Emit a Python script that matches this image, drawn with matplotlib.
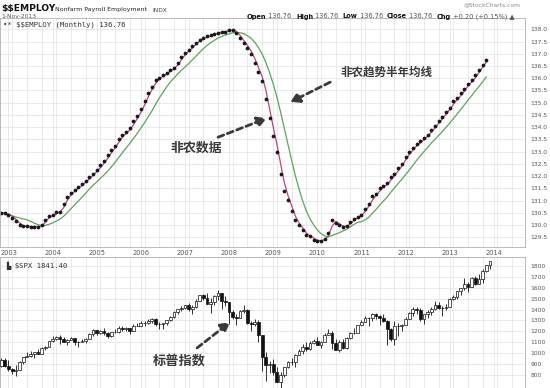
import matplotlib
matplotlib.use("Agg")
import matplotlib.pyplot as plt
from matplotlib.ticker import FormatStrFormatter
import numpy as np

# month index: 0 = Jan 2003, -2 = Nov 2002
emp_start = -2
# nonfarm payroll, millions (dots)
employ = [130.50, 130.48,
          130.42, 130.30, 130.18, 130.00, 129.95, 129.95, 129.92, 129.93, 129.92, 130.02, 130.19, 130.38,
          130.40, 130.52, 130.55, 130.87, 131.15, 131.30, 131.45, 131.56, 131.68, 131.82, 131.95, 132.10,
          132.25, 132.45, 132.60, 132.85, 133.05, 133.25, 133.50, 133.70, 133.80, 133.95, 134.25, 134.45,
          134.75, 135.05, 135.40, 135.65, 135.91, 136.02, 136.12, 136.22, 136.35, 136.42, 136.63, 136.86,
          137.03, 137.17, 137.30, 137.45, 137.58, 137.64, 137.71, 137.75, 137.80, 137.85, 137.88, 137.91,
          137.96, 137.98, 137.85, 137.65, 137.44, 137.23, 136.98, 136.63, 136.25, 135.88, 135.15, 134.39,
          133.65, 132.97, 132.10, 131.40, 131.03, 130.56, 130.19, 129.99, 129.78, 129.58, 129.54, 129.40,
          129.36, 129.35, 129.45, 129.67, 130.20, 130.10, 129.99, 129.92, 129.95, 130.12, 130.26, 130.35,
          130.43, 130.67, 130.87, 131.17, 131.25, 131.52, 131.60, 131.70, 131.95, 132.09, 132.33, 132.50,
          132.79, 132.97, 133.15, 133.30, 133.42, 133.55, 133.70, 133.88, 134.05, 134.25, 134.42, 134.62,
          134.80, 135.05, 135.18, 135.38, 135.58, 135.78, 135.92, 136.12, 136.35, 136.56, 136.76]
# short average (pink)
employ_short = [130.50, 130.49,
                130.45, 130.36, 130.24, 130.09, 129.98, 129.95, 129.94, 129.93, 129.93, 129.97, 130.11, 130.29,
                130.39, 130.46, 130.54, 130.71, 131.01, 131.23, 131.38, 131.51, 131.62, 131.75, 131.89, 132.03,
                132.18, 132.35, 132.53, 132.73, 132.95, 133.15, 133.38, 133.60, 133.75, 133.88, 134.10, 134.35,
                134.60, 134.90, 135.23, 135.53, 135.78, 135.97, 136.07, 136.17, 136.29, 136.39, 136.53, 136.75,
                136.95, 137.10, 137.24, 137.38, 137.52, 137.61, 137.68, 137.73, 137.78, 137.83, 137.87, 137.90,
                137.94, 137.97, 137.92, 137.75, 137.55, 137.34, 137.11, 136.81, 136.44, 136.07, 135.52, 134.77,
                134.02, 133.31, 132.54, 131.75, 131.22, 130.80, 130.38, 130.09, 129.89, 129.68, 129.56, 129.47,
                129.38, 129.36, 129.40, 129.56, 129.94, 130.15, 130.05, 129.96, 129.94, 130.04, 130.19, 130.31,
                130.39, 130.55, 130.77, 131.02, 131.21, 131.39, 131.56, 131.65, 131.83, 132.02, 132.21, 132.42,
                132.65, 132.88, 133.06, 133.23, 133.36, 133.49, 133.63, 133.79, 133.97, 134.15, 134.34, 134.52,
                134.71, 134.93, 135.12, 135.28, 135.48, 135.68, 135.85, 136.02, 136.24, 136.46, 136.66]
# half-year trend average (green)
employ_trend = [130.50, 130.47,
                130.43, 130.38, 130.33, 130.29, 130.25, 130.22, 130.15, 130.08, 130.02, 129.98, 129.99, 130.03,
                130.09, 130.16, 130.24, 130.36, 130.51, 130.67, 130.83, 130.98, 131.14, 131.30, 131.47, 131.63,
                131.76, 131.91, 132.05, 132.21, 132.38, 132.56, 132.76, 132.96, 133.15, 133.34, 133.54, 133.74,
                133.96, 134.18, 134.42, 134.66, 134.93, 135.19, 135.42, 135.64, 135.84, 136.01, 136.17, 136.32,
                136.46, 136.60, 136.75, 136.90, 137.06, 137.21, 137.34, 137.45, 137.55, 137.64, 137.71, 137.77,
                137.81, 137.86, 137.87, 137.86, 137.82, 137.74, 137.63, 137.47, 137.25, 136.99, 136.65, 136.24,
                135.77, 135.24, 134.63, 133.97, 133.32, 132.66, 132.04, 131.49, 131.00, 130.58, 130.26, 130.01,
                129.80, 129.65, 129.56, 129.52, 129.57, 129.63, 129.69, 129.76, 129.83, 129.93, 130.03, 130.11,
                130.14, 130.21, 130.32, 130.48, 130.64, 130.82, 130.98, 131.15, 131.34, 131.52, 131.70, 131.87,
                132.06, 132.24, 132.44, 132.64, 132.82, 133.00, 133.17, 133.35, 133.50, 133.66, 133.82, 133.99,
                134.16, 134.35, 134.53, 134.72, 134.91, 135.10, 135.29, 135.48, 135.67, 135.86, 136.06]

# S&P 500 monthly candles, Nov 2002 .. Dec 2013
spx_start = -2
spx_open = [886, 936,
            880, 856, 841, 848, 917, 964, 975, 990, 1008, 996, 1051, 1058,
            1112, 1131, 1145, 1126, 1107, 1121, 1141, 1102, 1104, 1115, 1130, 1174,
            1212, 1181, 1204, 1181, 1157, 1192, 1191, 1234, 1220, 1229, 1207, 1249,
            1248, 1280, 1281, 1295, 1311, 1270, 1270, 1277, 1304, 1336, 1378, 1401,
            1418, 1438, 1407, 1421, 1482, 1531, 1503, 1455, 1474, 1527, 1549, 1481,
            1468, 1379, 1331, 1323, 1386, 1400, 1280, 1267, 1283, 1165, 969, 896,
            903, 826, 735, 798, 873, 919, 919, 987, 1021, 1057, 1036, 1096,
            1115, 1074, 1104, 1169, 1187, 1089, 1031, 1102, 1049, 1141, 1183, 1181,
            1258, 1286, 1327, 1326, 1364, 1345, 1321, 1292, 1219, 1131, 1253, 1247,
            1258, 1312, 1366, 1408, 1398, 1310, 1362, 1379, 1407, 1441, 1412, 1416,
            1426, 1498, 1515, 1569, 1598, 1631, 1606, 1686, 1633, 1682, 1757, 1806]
spx_high = [952, 954,
            935, 864, 895, 924, 965, 1015, 1016, 1012, 1040, 1054, 1063, 1112,
            1155, 1159, 1163, 1150, 1128, 1146, 1141, 1109, 1132, 1142, 1188, 1218,
            1217, 1212, 1229, 1192, 1199, 1219, 1245, 1246, 1243, 1233, 1270, 1276,
            1295, 1297, 1311, 1319, 1326, 1284, 1280, 1306, 1340, 1389, 1407, 1431,
            1441, 1461, 1439, 1499, 1535, 1541, 1556, 1503, 1538, 1576, 1552, 1524,
            1471, 1397, 1359, 1397, 1441, 1405, 1292, 1314, 1304, 1168, 1008, 933,
            943, 876, 832, 877, 930, 956, 997, 1040, 1080, 1101, 1113, 1130,
            1150, 1113, 1181, 1220, 1208, 1132, 1120, 1129, 1151, 1196, 1228, 1263,
            1303, 1345, 1333, 1367, 1371, 1346, 1356, 1307, 1230, 1293, 1278, 1270,
            1333, 1378, 1420, 1422, 1415, 1364, 1392, 1427, 1475, 1470, 1434, 1448,
            1510, 1531, 1570, 1598, 1687, 1654, 1698, 1709, 1730, 1775, 1813, 1849]
spx_low = [872, 869,
           840, 806, 789, 847, 902, 962, 962, 960, 990, 994, 1031, 1056,
           1105, 1124, 1088, 1107, 1077, 1118, 1079, 1060, 1102, 1091, 1128, 1162,
           1163, 1180, 1171, 1137, 1146, 1188, 1184, 1201, 1205, 1176, 1201, 1246,
           1245, 1253, 1268, 1280, 1245, 1219, 1224, 1261, 1291, 1326, 1360, 1386,
           1403, 1390, 1364, 1416, 1477, 1485, 1454, 1371, 1439, 1490, 1407, 1436,
           1270, 1317, 1257, 1321, 1373, 1272, 1200, 1248, 1106, 839, 742, 815,
           804, 735, 667, 783, 866, 888, 869, 979, 991, 1020, 1029, 1086,
           1071, 1045, 1101, 1164, 1040, 1028, 1011, 1040, 1040, 1131, 1173, 1181,
           1257, 1290, 1249, 1299, 1311, 1259, 1282, 1074, 1114, 1075, 1158, 1203,
           1259, 1312, 1340, 1357, 1292, 1267, 1325, 1355, 1397, 1403, 1343, 1398,
           1426, 1485, 1501, 1537, 1581, 1560, 1605, 1627, 1633, 1646, 1746, 1768]
spx_close = [936, 880,
             856, 841, 848, 917, 964, 975, 990, 1008, 996, 1051, 1058, 1112,
             1131, 1145, 1126, 1107, 1121, 1141, 1102, 1104, 1115, 1130, 1174, 1212,
             1181, 1204, 1181, 1157, 1192, 1191, 1234, 1220, 1229, 1207, 1249, 1248,
             1280, 1281, 1295, 1311, 1270, 1270, 1277, 1304, 1336, 1378, 1401, 1418,
             1438, 1407, 1421, 1482, 1531, 1503, 1455, 1474, 1527, 1549, 1481, 1468,
             1379, 1331, 1323, 1386, 1400, 1280, 1267, 1283, 1165, 969, 896, 903,
             826, 735, 798, 873, 919, 919, 987, 1021, 1057, 1036, 1096, 1115,
             1074, 1104, 1169, 1187, 1089, 1031, 1102, 1049, 1141, 1183, 1181, 1258,
             1286, 1327, 1326, 1364, 1345, 1321, 1292, 1219, 1131, 1253, 1247, 1258,
             1312, 1366, 1408, 1398, 1310, 1362, 1379, 1407, 1441, 1412, 1416, 1426,
             1498, 1515, 1569, 1598, 1631, 1606, 1686, 1633, 1682, 1757, 1806, 1841.4]

years = list(range(2003, 2015))

plt.rcParams['font.family'] = ['DejaVu Sans']
GRID = '#e2e2e2'
TXT = '#555555'
CJK = ['Noto Sans CJK SC', 'DejaVu Sans']

fig = plt.figure(figsize=(5.5, 3.88), dpi=100)
W, H = 550.0, 388.0
xlim = (-2.31, 140.5)


def style_axes(ax):
    ax.set_facecolor('white')
    for s in ax.spines.values():
        s.set_color('#b0b0b0')
        s.set_linewidth(0.6)
    ax.yaxis.tick_right()
    ax.tick_params(axis='y', length=0, pad=4, labelsize=4.3, labelcolor=TXT)
    ax.tick_params(axis='x', length=0, pad=2.5, labelsize=4.8, labelcolor=TXT)
    ax.set_xticks(np.arange(0, 141, 12))
    ax.set_xticks(np.arange(-3, 141, 4), minor=True)
    ax.tick_params(axis='x', which='minor', length=0)
    ax.grid(True, which='both', color=GRID, lw=0.5)
    ax.set_axisbelow(True)
    ax.set_xlim(*xlim)


# ---------------- top panel: nonfarm payroll ----------------
ax = fig.add_axes([0, (H - 247) / H, 525 / W, (247 - 18.3) / H])
style_axes(ax)
m_emp = np.arange(emp_start, emp_start + len(employ))
ax.plot(m_emp, employ_trend, color='#5aa65a', lw=0.9)
ax.plot(m_emp, employ_short, color='#c2407e', lw=0.9)
ax.plot(m_emp, employ, linestyle='none', marker='o', ms=1.7, color='#1a1a1a')
ax.set_ylim(129.104, 138.45)
ax.set_yticks(np.arange(129.5, 138.01, 0.5))
ax.yaxis.set_major_formatter(FormatStrFormatter('%.1f'))
ax.set_xticklabels([str(y) for y in years])

ax.text(0.006, 0.985, r'•* \$\$EMPLOY (Monthly) 136.76', transform=ax.transAxes,
        family='DejaVu Sans Mono', fontsize=5.2, color='#333333', va='top', ha='left')

arrow_kw = dict(arrowstyle='-|>,head_length=0.55,head_width=0.3', color='#3a3a3a',
                lw=2.0, linestyle=(0, (2.2, 1.4)), shrinkA=0, shrinkB=0)
ax.annotate('', xy=(76.6, 135.02), xytext=(87.5, 135.84), arrowprops=arrow_kw)
ax.text(102.7, 136.25, '非农趋势半年均线', family=CJK, fontsize=8.3, fontweight='bold',
        color='#3a3a3a', ha='center', va='center')
ax.annotate('', xy=(70.3, 134.37), xytext=(57.0, 133.59), arrowprops=arrow_kw)
ax.text(51.0, 133.18, '非农数据', family=CJK, fontsize=9.3, fontweight='bold',
        color='#3a3a3a', ha='center', va='center')

# ---------------- bottom panel: S&P 500 ----------------
bx = fig.add_axes([0, 0, 525 / W, (H - 257) / H])
style_axes(bx)
bx.set_xticklabels([])
m_spx = np.arange(spx_start, spx_start + len(spx_close))
o = np.array(spx_open, dtype=float)
c = np.array(spx_close, dtype=float)
bx.vlines(m_spx, spx_low, spx_high, color='#111111', lw=0.6, zorder=2)
up = c >= o
bx.bar(m_spx[up], (c - o)[up], bottom=o[up], width=0.75, facecolor='white',
       edgecolor='#111111', lw=0.5, zorder=3)
bx.bar(m_spx[~up], (o - c)[~up], bottom=c[~up], width=0.75, facecolor='#111111',
       edgecolor='#111111', lw=0.5, zorder=3)
bx.set_ylim(680.7, 1882.6)
bx.set_yticks(np.arange(800, 1801, 100))
bx.text(0.012, 0.965, r'▙ \$SPX 1841.40', transform=bx.transAxes,
        family='DejaVu Sans Mono', fontsize=5.2, color='#333333', va='top', ha='left')
bx.annotate('', xy=(60.3, 1286), xytext=(51.3, 1048), arrowprops=arrow_kw)
bx.text(46.4, 928, '标普指数', family=CJK, fontsize=9.5, fontweight='bold',
        color='#3a3a3a', ha='center', va='center')

# ---------------- header ----------------
def fx(px):
    return px / W


def fy(py):
    return 1 - py / H


fig.text(fx(1), fy(11.5), r'\$\$EMPLOY', fontsize=6.6, fontweight='bold', color='#111111',
         va='baseline', ha='left')
fig.text(fx(55), fy(11.5), 'Nonfarm Payroll Employment', fontsize=4.5, color='#222222',
         va='baseline', ha='left')
fig.text(fx(152), fy(11.5), 'INDX', fontsize=4.2, color='#444444', va='baseline', ha='left')
fig.text(fx(1), fy(18.5), '1-Nov-2013', fontsize=4.3, color='#555555', va='baseline', ha='left')
fig.text(fx(521), fy(6.5), '@StockCharts.com', fontsize=4.3, color='#888888', va='baseline', ha='right')

pieces = [('Open', True), (' 136.76  ', False), ('High', True), (' 136.76  ', False),
          ('Low', True), (' 136.76  ', False), ('Close', True), (' 136.76  ', False),
          ('Chg', True), (' +0.20 (+0.15%) ▲', False)]
renderer = fig.canvas.get_renderer()
xpos = 247.0
for txt, bold in pieces:
    t = fig.text(fx(xpos), fy(18.5), txt, fontsize=4.8, fontweight='bold' if bold else 'normal',
                 color='#111111' if bold else '#555555', va='baseline', ha='left')
    xpos += t.get_window_extent(renderer).width

fig.savefig('out.png', dpi=100, facecolor='white')
